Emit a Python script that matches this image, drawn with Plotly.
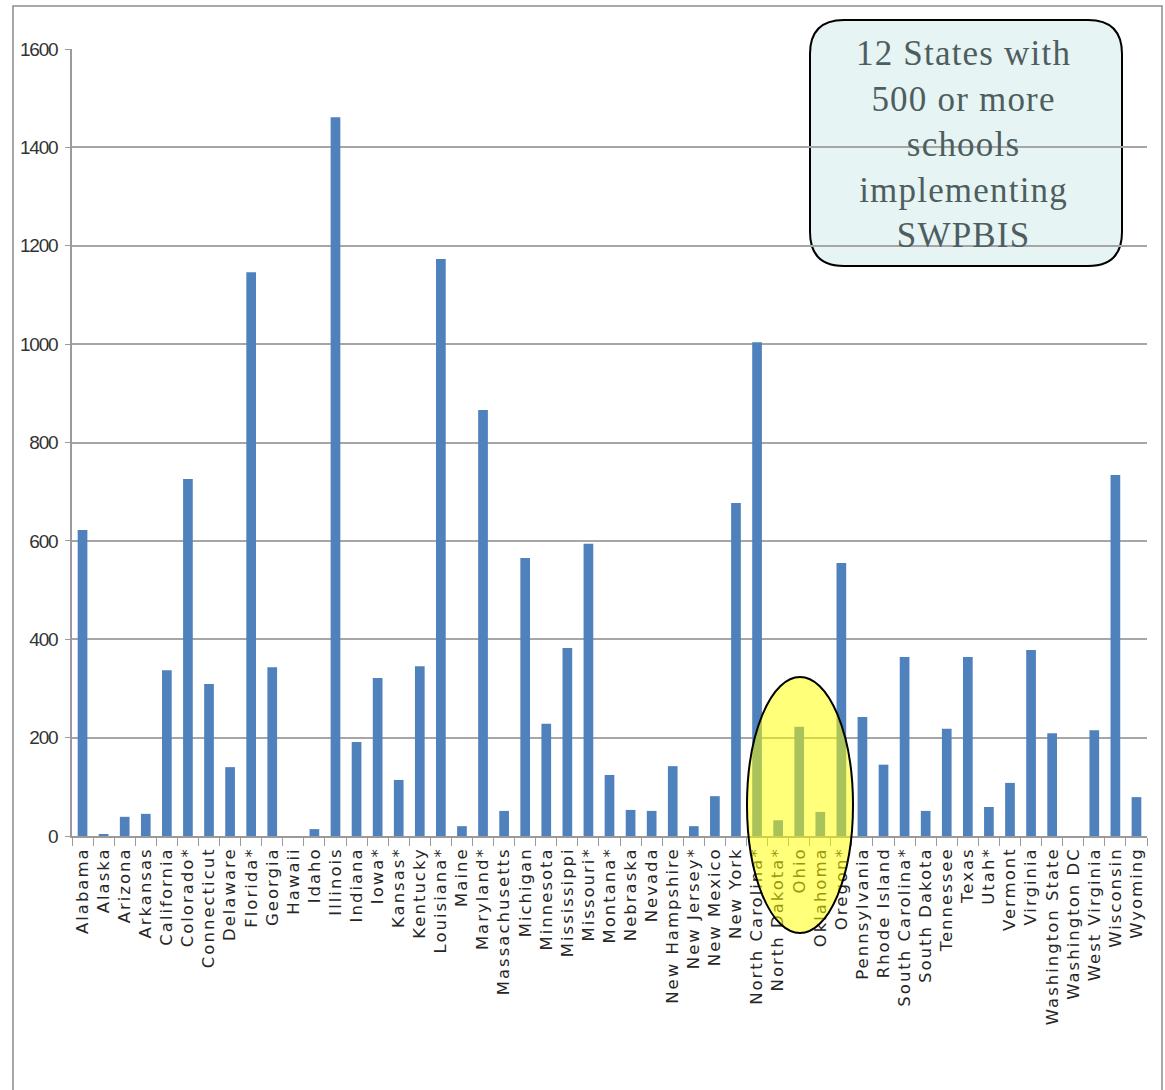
import plotly.graph_objects as go

states = ["Alabama", "Alaska", "Arizona", "Arkansas", "California", "Colorado*", "Connecticut",
          "Delaware", "Florida*", "Georgia", "Hawaii", "Idaho", "Illinois", "Indiana", "Iowa*",
          "Kansas*", "Kentucky", "Louisiana*", "Maine", "Maryland*", "Massachusetts", "Michigan",
          "Minnesota", "Mississippi", "Missouri*", "Montana*", "Nebraska", "Nevada",
          "New Hampshire", "New Jersey*", "New Mexico", "New York", "North Carolina*",
          "North Dakota*", "Ohio", "Oklahoma", "Oregon*", "Pennsylvania", "Rhode Island",
          "South Carolina*", "South Dakota", "Tennessee", "Texas", "Utah*", "Vermont", "Virginia",
          "Washington State", "Washington DC", "West Virginia", "Wisconsin", "Wyoming"]

schools = [622, 4, 39, 45, 337, 726, 309,
           140, 1146, 343, 0, 14, 1461, 191, 321,
           114, 345, 1173, 20, 866, 51, 565,
           228, 382, 594, 124, 53, 51,
           142, 20, 81, 677, 1004,
           32, 222, 49, 555, 242, 145,
           364, 51, 218, 364, 59, 108, 378,
           209, 0, 215, 734, 79]

y_ticks = [0, 200, 400, 600, 800, 1000, 1200, 1400, 1600]

callout_lines = ["12 States with", "500 or more", "schools", "implementing", "SWPBIS"]

W, H = 1165, 1090
ML, MR, MT, MB = 72, 18, 49, 254
PW, PH = W - ML - MR, H - MT - MB


def px_x(p):
    return (p - ML) / PW


def px_y(p):
    return (H - MB - p) / PH


x_tick_text = ['<span style="letter-spacing:2px">%s</span>' % s for s in states]
y_tick_text = ['<span style="font-stretch:condensed;letter-spacing:-1.2px">%d</span>' % v for v in y_ticks]

fig = go.Figure(go.Bar(
    x=states, y=schools,
    marker=dict(color="#4F81BD", line=dict(width=0)),
    width=0.46,
))

fig.update_layout(
    width=W, height=H,
    margin=dict(l=ML, r=MR, t=MT, b=MB),
    paper_bgcolor="white", plot_bgcolor="rgba(0,0,0,0)",
    showlegend=False,
    xaxis=dict(
        type="category", tickvals=states, ticktext=x_tick_text, tickangle=-90,
        tickfont=dict(family="DejaVu Sans", size=16.5, color="#262626"),
        showline=True, linecolor="#9A9A9A", linewidth=1.5,
        ticks="outside", tickson="boundaries", ticklen=8, tickcolor="#9A9A9A", tickwidth=1.2,
        showgrid=False, range=[-0.5, len(states) - 0.5], ticklabelstandoff=3,
    ),
    yaxis=dict(
        range=[0, 1600], tickvals=y_ticks, ticktext=y_tick_text,
        tickfont=dict(family="Liberation Sans, Arial, sans-serif", size=19, color="#333333"),
        showgrid=True, gridcolor="#A6A6A6", gridwidth=1.6,
        showline=True, linecolor="#9A9A9A", linewidth=1.5,
        ticks="outside", ticklen=5, tickcolor="#9A9A9A", tickwidth=1.2,
        zeroline=False, ticklabelstandoff=4,
    ),
)

# outer frame
fig.add_shape(type="rect", xref="paper", yref="paper",
              x0=px_x(13), x1=px_x(1162), y0=px_y(1110), y1=px_y(6),
              line=dict(color="#8C8C8C", width=1.5), fillcolor="rgba(0,0,0,0)", layer="below")

# rounded callout box
bx0, bx1, by0, by1 = px_x(810), px_x(1122), px_y(266), px_y(20)
r = 34
rx, ry = r / PW, r / PH
path = (f"M {bx0 + rx},{by0} L {bx1 - rx},{by0} Q {bx1},{by0} {bx1},{by0 + ry} "
        f"L {bx1},{by1 - ry} Q {bx1},{by1} {bx1 - rx},{by1} L {bx0 + rx},{by1} "
        f"Q {bx0},{by1} {bx0},{by1 - ry} L {bx0},{by0 + ry} Q {bx0},{by0} {bx0 + rx},{by0} Z")
fig.add_shape(type="path", xref="paper", yref="paper", path=path,
              fillcolor="#E6F4F4", line=dict(color="black", width=2), layer="below")

fig.add_annotation(xref="paper", yref="paper", x=px_x(963), y=px_y(144),
                   text="<br>".join('<span style="letter-spacing:1.2px">%s</span>' % s for s in callout_lines),
                   showarrow=False, align="center", xanchor="center", yanchor="middle",
                   font=dict(family="Liberation Serif, Times New Roman, serif", size=35, color="#4E5E5E"))

# yellow highlight ellipse
fig.add_shape(type="circle", xref="paper", yref="paper",
              x0=px_x(747), x1=px_x(853), y0=px_y(933), y1=px_y(677),
              fillcolor="rgba(255,255,0,0.52)", line=dict(color="black", width=2), layer="above")

fig.write_html("out.html")
